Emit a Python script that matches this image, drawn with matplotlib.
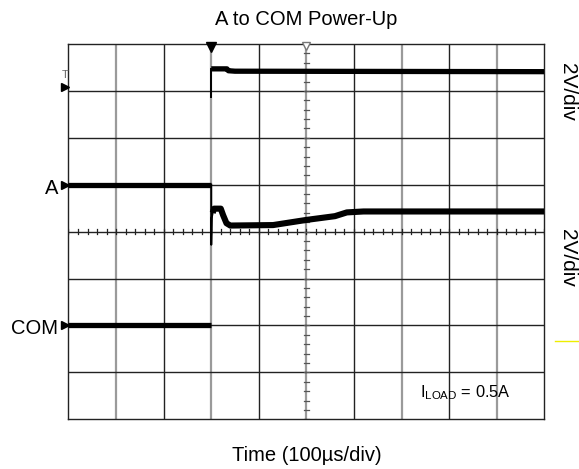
import matplotlib
matplotlib.use("Agg")
import matplotlib.pyplot as plt
from matplotlib.lines import Line2D

plt.rcParams['font.family'] = ['Liberation Sans', 'DejaVu Sans']
plt.rcParams['mathtext.fontset'] = 'custom'
plt.rcParams['mathtext.rm'] = 'Liberation Sans'

# ---- data (x in time divisions, y in vertical divisions) ----
ch1_x = [3.0, 3.33, 3.36, 3.5, 10.0]
ch1_y = [7.47, 7.47, 7.43, 7.42, 7.41]
ch1_edge_y = [6.88, 7.47]

a_pre_x = [0.0, 3.0]
a_pre_y = [5.0, 5.0]
a_post_x = [3.03, 3.06, 3.2, 3.25, 3.32, 3.4, 4.3, 5.0, 5.6, 5.85, 6.2, 10.0]
a_post_y = [4.40, 4.49, 4.49, 4.35, 4.18, 4.13, 4.14, 4.25, 4.33, 4.41, 4.43, 4.43]
a_edge_x = [3.0, 3.0, 3.01, 3.035]
a_edge_y = [5.0, 3.72, 4.30, 4.42]

com_x = [0.0, 3.0]
com_y = [2.02, 2.02]

ground_levels = [7.08, 5.0, 2.02]
channel_labels = ['A', 'COM']
channel_label_levels = [4.92, 1.93]
trigger_pos = 3.0
center_pos = 5.0

fig = plt.figure(figsize=(5.79, 4.69), dpi=100)
ax = fig.add_axes([0.1183, 0.106, 0.8218, 0.8002])
ax.set_xlim(0, 10)
ax.set_ylim(0, 8)
ax.set_xticks([])
ax.set_yticks([])
for s in ax.spines.values():
    s.set_color('#222222')
    s.set_linewidth(1.0)

# grid
for i in range(1, 10):
    if i % 2 == 1:
        ax.axvline(i, color='#9a9a9a', lw=1.6, zorder=1)
    else:
        ax.axvline(i, color='#222222', lw=1.0, zorder=1)
for j in range(1, 8):
    ax.axhline(j, color='#222222', lw=1.0, zorder=1)

# minor ticks on center lines
for k in range(0, 51):
    xv = k * 0.2
    ax.plot([xv, xv], [4 - 0.05, 4 + 0.05], color='#222222', lw=0.9, zorder=2)
for k in range(0, 41):
    yv = k * 0.2
    ax.plot([center_pos - 0.045, center_pos + 0.045], [yv, yv], color='#555555', lw=0.9, zorder=2)

# traces
lw = 3.8
ax.plot(ch1_x, ch1_y, color='black', lw=lw, solid_joinstyle='round', solid_capstyle='butt', zorder=5)
ax.plot([trigger_pos, trigger_pos], ch1_edge_y, color='black', lw=1.4, zorder=5)
ax.plot(a_pre_x, a_pre_y, color='black', lw=lw, solid_capstyle='butt', zorder=5)
ax.plot(a_post_x, a_post_y, color='black', lw=lw + 0.6, solid_joinstyle='round', solid_capstyle='butt', zorder=5)
ax.plot(a_edge_x, a_edge_y, color='black', lw=1.4, zorder=6)
ax.plot(com_x, com_y, color='black', lw=lw, solid_capstyle='butt', zorder=5)

# markers
for gl in ground_levels:
    ax.plot([-0.07], [gl], marker='>', color='black', markersize=6, clip_on=False, zorder=7, ls='none')
ax.plot([trigger_pos], [7.94], marker='v', color='black', markersize=6.5, clip_on=False, zorder=7, ls='none')
ax.plot([center_pos], [7.95], marker='v', markerfacecolor='white', markeredgecolor='#777777',
        markersize=6, clip_on=False, zorder=7, ls='none')
ax.text(-0.08, 7.33, 'T', color='#666666', fontsize=8, ha='center', va='center', clip_on=False)

# texts
ax.set_title('A to COM Power-Up', fontsize=14.5, pad=14)
ax.set_xlabel('Time (100µs/div)', fontsize=14.5, labelpad=19)
for lbl, lv in zip(channel_labels, channel_label_levels):
    ax.text(-0.22, lv, lbl, fontsize=14.5, ha='right', va='center', clip_on=False)
ax.text(10.48, 6.98, '2V/div', fontsize=15, rotation=270, ha='center', va='center', clip_on=False)
ax.text(10.48, 3.44, '2V/div', fontsize=15, rotation=270, ha='center', va='center', clip_on=False)
ax.text(8.33, 0.56, r'$\mathregular{I_{LOAD}}$ = 0.5A', fontsize=11.8, ha='center', va='center')

# small yellow artifact line
fig.add_artist(Line2D([555/579, 579/579], [1 - 341.3/469, 1 - 341.3/469], color='#eeee00', lw=1.0))

fig.savefig('out.png', dpi=100)
